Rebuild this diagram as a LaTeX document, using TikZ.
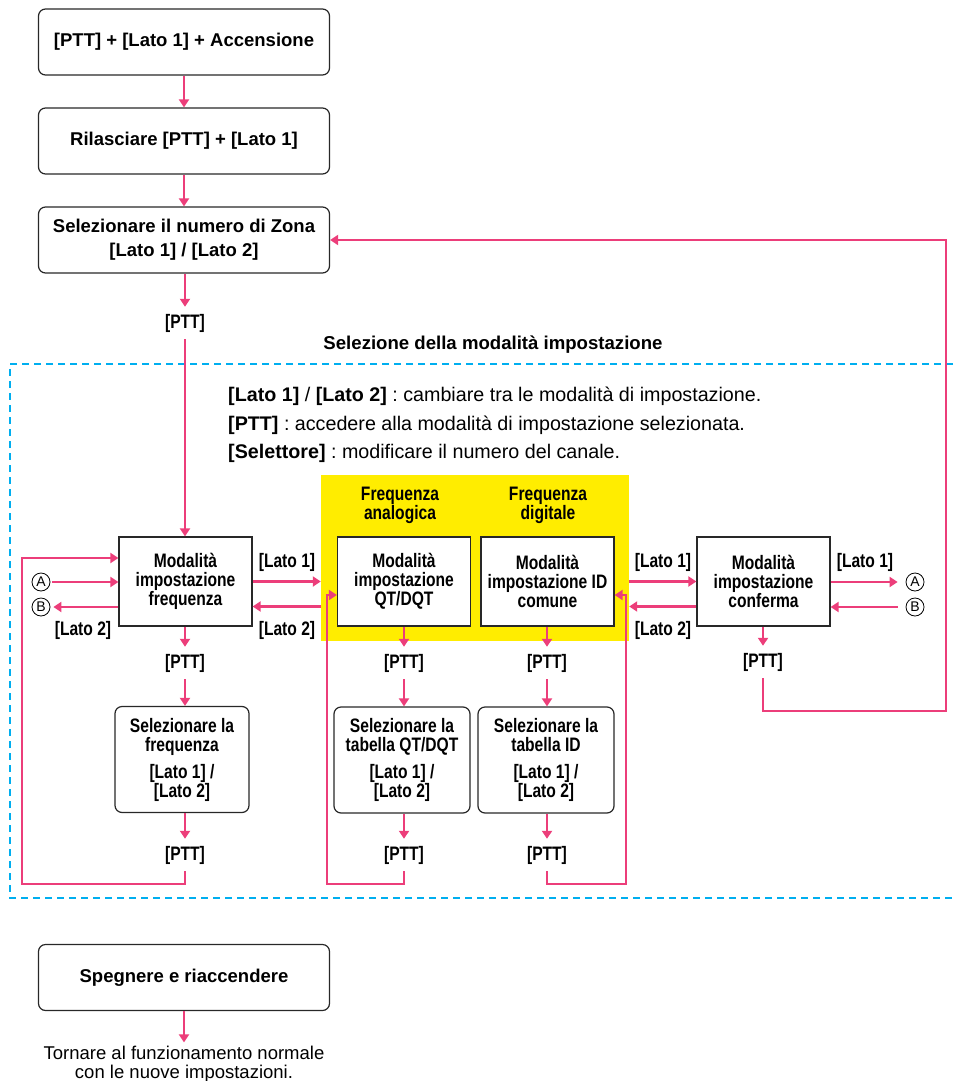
\documentclass[tikz,border=0pt]{standalone}
\usepackage{fontspec}
\setmainfont{Liberation Sans}
\newfontfamily\condfont[FakeStretch=0.8]{Liberation Sans}
\usetikzlibrary{arrows.meta}
\definecolor{pinkline}{RGB}{236,62,122}
\definecolor{cyanline}{RGB}{0,174,239}
\definecolor{yellowbg}{RGB}{255,237,0}
\definecolor{boxline}{RGB}{40,40,40}
\frenchspacing

\begin{document}
\begin{tikzpicture}[x=1pt,y=-1pt,
  arr/.style={-{Triangle[length=8pt,width=10pt]},line width=2.3pt,draw=pinkline},
  flowbox/.style={draw=boxline,line width=1.2pt,rounded corners=7pt,minimum width=291pt,minimum height=66pt,align=center,font=\fontsize{18.5}{24}\selectfont\bfseries},
  modebox/.style={draw=boxline,line width=1.2pt,fill=white,minimum width=133pt,minimum height=89pt,align=center,font=\condfont\fontsize{19.5}{19}\selectfont\bfseries},
  selbox/.style={modebox,rounded corners=7pt,minimum width=136pt,minimum height=106pt},
  key/.style={font=\condfont\fontsize{19.5}{19}\selectfont\bfseries,inner sep=0pt,minimum height=32pt,align=center},
  lab/.style={font=\condfont\fontsize{19.5}{19}\selectfont\bfseries,inner sep=0pt},
  hint/.style={anchor=west,inner sep=0pt,font=\fontsize{19.7}{20}\selectfont},
  ring/.style={circle,draw=black,line width=0.8pt,minimum size=18pt,inner sep=0pt,font=\fontsize{14}{14}\selectfont}]
  \useasboundingbox (0,0) rectangle (953,1081);

  \draw[cyanline,line width=2.2pt,dash pattern=on 7pt off 5pt] (953,364) -| (10,898) -- (953,898);

  \node[flowbox] (start) at (184,42) {[PTT] + [Lato 1] + Accensione};
  \node[flowbox] (release) at (184,141) {Rilasciare [PTT] + [Lato 1]};
  \node[flowbox] (zone) at (184,240) {Selezionare il numero di Zona\\{[Lato 1] / [Lato 2]}};
  \node[key] (pttZ) at (185,323) {[PTT]};
  \node[font=\fontsize{18.6}{20}\selectfont\bfseries] (title) at (493,345) {Selezione della modalità impostazione};

  \node[hint] (hint1) at (228,396) {\textbf{[Lato 1]} / \textbf{[Lato 2]} : cambiare tra le modalità di impostazione.};
  \node[hint] (hint2) at (228,425) {\textbf{[PTT]} : accedere alla modalità di impostazione selezionata.};
  \node[hint] (hint3) at (228,453) {\textbf{[Selettore]} : modificare il numero del canale.};

  \node[fill=yellowbg,minimum width=308pt,minimum height=166pt,inner sep=0pt] (yel) at (475,558) {};
  \node[key] (anaT) at (400,505) {Frequenza\\analogica};
  \node[key] (digT) at (548,505) {Frequenza\\digitale};

  \node[modebox] (modeF) at (185.5,581.5) {Modalità\\impostazione\\frequenza};
  \node[modebox] (modeQ) at (404,581.5) {Modalità\\impostazione\\QT/DQT};
  \node[modebox] (modeI) at (547.5,581.5) {Modalità\\impostazione ID\\comune};
  \node[modebox] (modeC) at (763.5,581.5) {Modalità\\impostazione\\conferma};

  \node[key] (pttF1) at (185,663) {[PTT]};
  \node[key] (pttQ1) at (404,663) {[PTT]};
  \node[key] (pttI1) at (547,663) {[PTT]};
  \node[key] (pttC) at (763,662) {[PTT]};

  \node[selbox,minimum width=134pt] (selF) at (182,759.5) {Selezionare la\\frequenza\\[8pt]{[Lato 1] /}\\{[Lato 2]}};
  \node[selbox] (selQ) at (402,760) {Selezionare la\\tabella QT/DQT\\[8pt]{[Lato 1] /}\\{[Lato 2]}};
  \node[selbox] (selI) at (546,760) {Selezionare la\\tabella ID\\[8pt]{[Lato 1] /}\\{[Lato 2]}};

  \node[key] (pttF2) at (185,855) {[PTT]};
  \node[key] (pttQ2) at (404,855) {[PTT]};
  \node[key] (pttI2) at (547,855) {[PTT]};

  \node[lab] (l1F) at (287,562) {[Lato 1]};
  \node[lab] (l2F) at (287,630) {[Lato 2]};
  \node[lab] (l2A) at (83,630) {[Lato 2]};
  \node[lab] (l1C) at (663,562) {[Lato 1]};
  \node[lab] (l2C) at (663,630) {[Lato 2]};
  \node[lab] (l1R) at (865,562) {[Lato 1]};

  \node[ring] (ringA1) at (41,582) {A};
  \node[ring] (ringB1) at (41,607) {B};
  \node[ring] (ringA2) at (915,582) {A};
  \node[ring] (ringB2) at (915,607) {B};

  \node[flowbox] (restart) at (184,977.5) {Spegnere e riaccendere};
  \node[align=center,font=\fontsize{18.5}{19}\selectfont] (normal) at (184,1064) {Tornare al funzionamento normale\\con le nuove impostazioni.};

  \coordinate (backF) at (22,884);
  \coordinate (backQ) at (327,884);
  \coordinate (backI) at (626,884);
  \coordinate (backC) at (946,711);
  \coordinate (fBack) at ([yshift=-25pt]modeF.east);
  \coordinate (cBack) at ([yshift=-25pt]modeC.west);

  \draw[arr] (start) -- (release);
  \draw[arr] (release) -- (zone);
  \draw[arr] (zone.south -| pttZ) -- (pttZ);
  \draw[arr] (pttZ.south) -- (pttZ.south |- modeF.north);

  \foreach \c in {F,Q,I}{
    \draw[arr] (mode\c.south -| ptt\c1) -- (ptt\c1);
    \draw[arr] (ptt\c1.south) -- (ptt\c1.south |- sel\c.north);
    \draw[arr] (sel\c.south -| ptt\c2) -- (ptt\c2);
  }

  \draw[arr] (modeF.east) -- (modeF.east -| yel.west);
  \draw[arr] (fBack -| yel.west) -- (fBack);
  \draw[arr,shorten <=2pt] (ringA1) -- (ringA1 -| modeF.west);
  \draw[arr,shorten >=3pt] (ringB1 -| modeF.west) -- (ringB1);

  \draw[arr] (pttF2.south) |- (backF) |- ([yshift=23.5pt]modeF.west);
  \draw[arr] (pttQ2.south) |- (backQ) |- ([yshift=-13.5pt]modeQ.west);
  \draw[arr] (pttI2.south) |- (backI) |- ([yshift=-13.5pt]modeI.east);

  \draw[arr] (modeC.west -| yel.east) -- (modeC.west);
  \draw[arr] (cBack) -- (cBack -| yel.east);
  \draw[arr,shorten >=8pt] (ringA2 -| modeC.east) -- (ringA2);
  \draw[arr,shorten <=8pt] (ringB2) -- (ringB2 -| modeC.east);
  \draw[arr] (modeC.south -| pttC) -- (pttC);
  \draw[arr] (pttC.south) |- (backC) |- (zone.east);

  \draw[arr] (restart) -- (normal);
\end{tikzpicture}
\end{document}
